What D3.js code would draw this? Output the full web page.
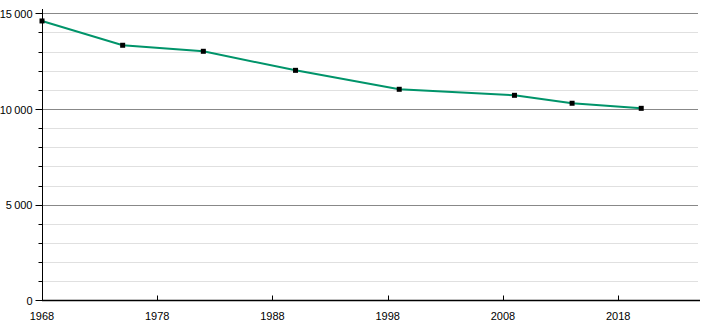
<!DOCTYPE html>
<html><head><meta charset="utf-8">
<script src="https://cdn.jsdelivr.net/npm/d3@7"></script>
<style>body{margin:0;background:#fff}svg{display:block}text{font-family:"Liberation Sans",Arial,sans-serif;font-size:11px;fill:#000}</style>
</head><body>
<svg id="c" width="710" height="320"></svg>
<script>
const years = [1968, 1975, 1982, 1990, 1999, 2009, 2014, 2020];
const population = [14600, 13330, 13015, 12020, 11030, 10715, 10300, 10035];
const xTicks = [1968, 1978, 1988, 1998, 2008, 2018];
const yMajor = [0, 5000, 10000, 15000];
const yMinor = d3.range(0, 15001, 1000);

const svg = d3.select("#c");
const x = d3.scaleLinear().domain([1968, 2025.1]).range([42, 700]);
const y = d3.scaleLinear().domain([0, 15000]).range([300.4, 13.3]);
const fmt = v => d3.format(",")(v).replace(/,/g, "\u202f");

// minor gridlines
svg.append("g").selectAll("line").data(yMinor.filter(v => v % 5000 !== 0)).join("line")
  .attr("x1", 42).attr("x2", 698).attr("y1", d => Math.round(y(d)) + 0.5).attr("y2", d => Math.round(y(d)) + 0.5)
  .attr("stroke", "#e0e0e0").attr("stroke-width", 1);
// major gridlines
svg.append("g").selectAll("line").data(yMajor.filter(v => v > 0)).join("line")
  .attr("x1", 42).attr("x2", 698).attr("y1", d => Math.round(y(d)) + 0.5).attr("y2", d => Math.round(y(d)) + 0.5)
  .attr("stroke", "#888").attr("stroke-width", 1);

// y axis
const yAxis = svg.append("g").attr("transform", "translate(42.5,0)");
yAxis.append("line").attr("y1", 9).attr("y2", y(0)).attr("stroke", "#000");
yAxis.selectAll(".mn").data(yMinor).join("line").attr("class", "mn")
  .attr("x1", -4).attr("x2", 0).attr("y1", d => Math.round(y(d)) + 0.5).attr("y2", d => Math.round(y(d)) + 0.5).attr("stroke", "#000");
yAxis.selectAll(".mj").data(yMajor).join("line").attr("class", "mj")
  .attr("x1", -7).attr("x2", 0).attr("y1", d => Math.round(y(d)) + 0.5).attr("y2", d => Math.round(y(d)) + 0.5).attr("stroke", "#000");
yAxis.selectAll("text").data(yMajor).join("text")
  .attr("x", -10).attr("y", d => y(d) + 1).attr("dy", "0.32em").attr("text-anchor", "end").text(fmt);

// x axis
const xAxis = svg.append("g").attr("transform", "translate(0,300.5)");
xAxis.append("line").attr("x1", 42).attr("x2", 700).attr("stroke", "#000").attr("stroke-width", 1.5);
xAxis.selectAll("line.t").data(xTicks).join("line").attr("class", "t")
  .attr("x1", d => Math.round(x(d)) + 0.5).attr("x2", d => Math.round(x(d)) + 0.5).attr("y1", -5).attr("y2", 0).attr("stroke", "#000");
xAxis.selectAll("text").data(xTicks).join("text")
  .attr("x", d => x(d)).attr("y", 19).attr("text-anchor", "middle").text(d => d);

// line
const pts = years.map((yr, i) => [yr, population[i]]);
svg.append("path").datum(pts)
  .attr("d", d3.line().x(d => x(d[0])).y(d => y(d[1])))
  .attr("fill", "none").attr("stroke", "#00946a").attr("stroke-width", 2);
svg.append("g").selectAll("rect").data(pts).join("rect")
  .attr("x", d => x(d[0]) - 2.5).attr("y", d => y(d[1]) - 2.5).attr("width", 5).attr("height", 5).attr("fill", "#000");
</script>
</body></html>
